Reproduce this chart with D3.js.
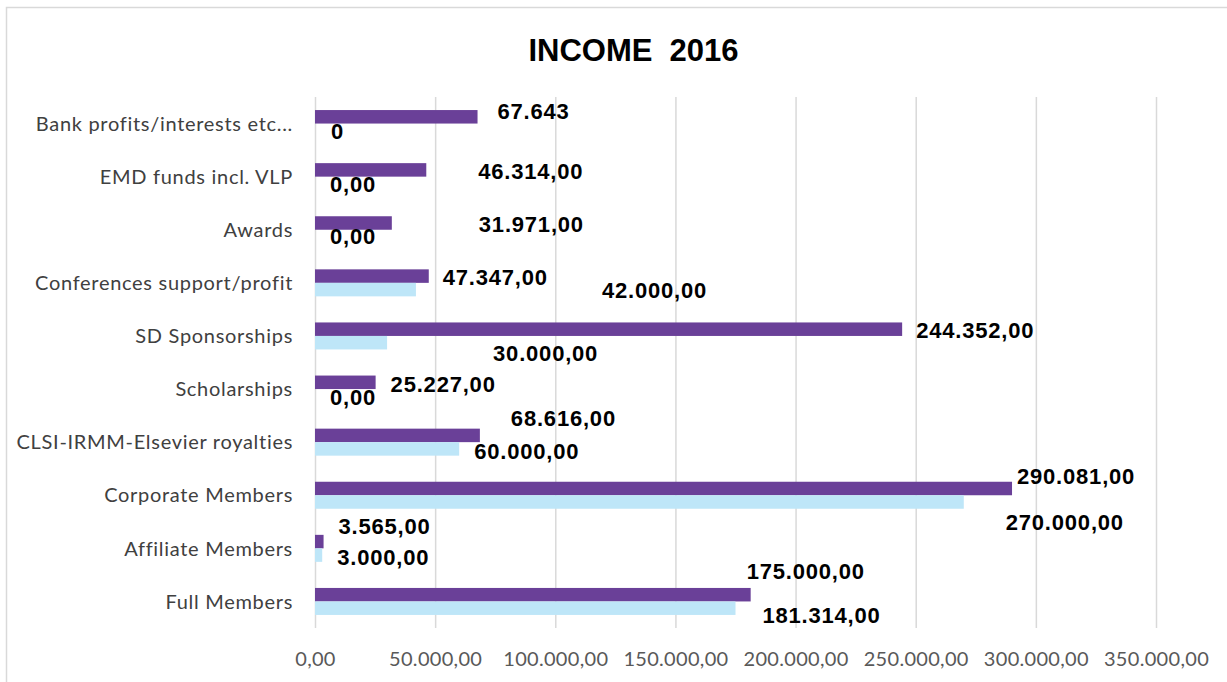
<!DOCTYPE html>
<html>
<head>
<meta charset="utf-8">
<script src="https://cdnjs.cloudflare.com/ajax/libs/d3/7.8.5/d3.min.js"></script>
<style>
  body { margin: 0; background: #fff; }
  svg { display: block; }
</style>
</head>
<body>
<div id="chart"></div>
<script>
// categories, top to bottom as in the sheet
var categories = [
    "Bank profits/interests etc...",
    "EMD funds incl. VLP",
    "Awards",
    "Conferences support/profit",
    "SD Sponsorships",
    "Scholarships",
    "CLSI-IRMM-Elsevier royalties",
    "Corporate Members",
    "Affiliate Members",
    "Full Members"
];

// purple series (actual 2016)
var actual = [67643, 46314, 31971, 47347, 244352, 25227, 68616, 290081, 3565, 181314];
// light blue series (budget)
var budget = [0, 0, 0, 42000, 30000, 0, 60000, 270000, 3000, 175000];

// data labels exactly as printed on the chart
var actualLabels = ["67.643", "46.314,00", "31.971,00", "47.347,00", "244.352,00",
    "25.227,00", "68.616,00", "290.081,00", "3.565,00", "175.000,00"];
var budgetLabels = ["0", "0,00", "0,00", "42.000,00", "30.000,00",
    "0,00", "60.000,00", "270.000,00", "3.000,00", "181.314,00"];

var xTicks = [0, 50000, 100000, 150000, 200000, 250000, 300000, 350000];

// labels were dragged around by hand in the original, pixel nudges from the bar end
var actualNudge = [[6,-7],[38,0],[73,0],[0,0],[0,0],[1,1],[17,-18],[-9,-13],[1,-16],[-18,-24]];
var budgetNudge = [[2,0],[1,0],[1,-1],[172,0],[92,10],[1,0],[1,1],[28,19],[1,1],[13,6]];

var purple = "#6a4098",
    lightBlue = "#bee6f8";

var W = 1227, H = 682;
var plot = {left: 315, right: 1156, top: 97, bottom: 628};

var svg = d3.select("#chart")
    .append("svg")
    .attr("width", W)
    .attr("height", H);

// chart frame (only top and left visible)
svg.append("rect")
    .attr("x", 6.5).attr("y", 7.5)
    .attr("width", W + 20).attr("height", H + 20)
    .attr("fill", "#fff")
    .attr("stroke", "#d9d9d9")
    .attr("stroke-width", 1.5);

// title
svg.append("text")
    .attr("x", 633.5)
    .attr("y", 61)
    .attr("text-anchor", "middle")
    .style("font-family", "'Liberation Sans', Arial, sans-serif")
    .style("font-weight", "bold")
    .style("font-size", "31px")
    .style("white-space", "pre")
    .attr("fill", "#000")
    .text("INCOME  2016");

var x = d3.scaleLinear()
    .domain([0, 350000])
    .range([plot.left, plot.right]);

var y = d3.scaleBand()
    .domain(categories)
    .range([plot.top, plot.bottom])
    .paddingInner(0.4915)
    .paddingOuter(0.4915 / 2);

var sub = d3.scaleBand()
    .domain(["actual", "budget"])
    .range([0, y.bandwidth()]);

var fmt = d3.formatLocale({decimal: ",", thousands: ".", grouping: [3], currency: ["", ""]}).format(",.2f");

// x axis + gridlines
var xAxis = svg.append("g")
    .attr("transform", "translate(0," + plot.bottom + ")")
    .call(d3.axisBottom(x)
        .tickValues(xTicks)
        .tickFormat(fmt)
        .tickSize(-(plot.bottom - plot.top)));
xAxis.select(".domain").remove();
xAxis.selectAll(".tick line")
    .attr("stroke", "#d9d9d9")
    .attr("stroke-width", 1.5);
xAxis.selectAll(".tick text")
    .attr("y", 38)
    .attr("dy", null)
    .attr("fill", "#595959")
    .style("font-family", "Lato, sans-serif")
    .style("font-size", "20px")
    .style("letter-spacing", "0.3px");

// y axis labels
var yAxis = svg.append("g")
    .attr("transform", "translate(" + plot.left + ",0)")
    .call(d3.axisLeft(y).tickSize(0).tickPadding(22));
yAxis.select(".domain").remove();
yAxis.selectAll(".tick text")
    .attr("dy", "0.36em")
    .attr("fill", "#404040")
    .style("font-family", "Lato, sans-serif")
    .style("font-size", "20px")
    .style("letter-spacing", "0.7px");

var rows = categories.map(function(c, i) {
    return {cat: c, actual: actual[i], budget: budget[i], i: i};
});

// bars
svg.selectAll("rect.actual")
    .data(rows)
    .enter()
    .append("rect")
    .attr("class", "actual")
    .attr("x", x(0))
    .attr("y", function(d) { return y(d.cat) + sub("actual"); })
    .attr("width", function(d) { return x(d.actual) - x(0); })
    .attr("height", sub.bandwidth())
    .attr("fill", purple);

svg.selectAll("rect.budget")
    .data(rows)
    .enter()
    .append("rect")
    .attr("class", "budget")
    .attr("x", x(0))
    .attr("y", function(d) { return y(d.cat) + sub("budget"); })
    .attr("width", function(d) { return x(d.budget) - x(0); })
    .attr("height", sub.bandwidth())
    .attr("fill", lightBlue);

// data labels
function addLabels(key, texts, nudge) {
    svg.selectAll("text.lbl-" + key)
        .data(rows)
        .enter()
        .append("text")
        .attr("class", "lbl-" + key)
        .attr("x", function(d) { return x(d[key]) + 14 + nudge[d.i][0]; })
        .attr("y", function(d) { return y(d.cat) + sub(key) + 15.5 + nudge[d.i][1]; })
        .style("font-family", "'Liberation Sans', Arial, sans-serif")
        .style("font-weight", "bold")
        .style("font-size", "22px")
        .style("letter-spacing", "0.8px")
        .attr("fill", "#000")
        .text(function(d) { return texts[d.i]; });
}
addLabels("actual", actualLabels, actualNudge);
addLabels("budget", budgetLabels, budgetNudge);
</script>
</body>
</html>
